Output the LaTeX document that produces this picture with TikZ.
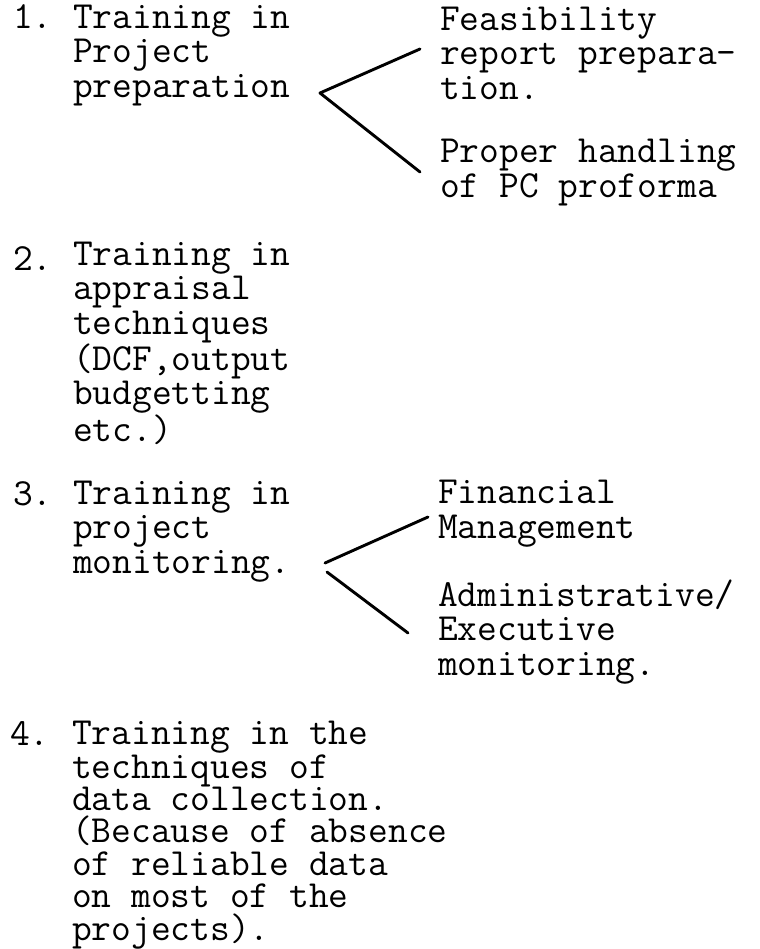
\documentclass[tikz,border=0pt]{standalone}
\usepackage{fontspec}
\usepackage{tikz}

\begin{document}
\begin{tikzpicture}[x=1bp, y=-1bp,
		typed/.style={anchor=base west, inner sep=0pt, align=left, font=\ttfamily\addfontfeatures{FakeBold=0.8}\fontsize{38.5}{34.5}\selectfont},
		stroke/.style={line width=2.9bp, line cap=round, line join=round}]
			%%%%% START %%%%%
			
			\useasboundingbox (0, 0) rectangle (760, 949);
			
			% 1. (multi-line nodes sit on the base of their last line)
			\node[typed] (n1) at (13, 28) {1.};
			\node[typed] (t1) at (73, 97) {Training in\\Project\\preparation};
			\node[typed] (f1) at (440, 99) {Feasibility\\report prepara-\\tion.};
			\node[typed] (f2) at (440, 197) {Proper handling\\of PC proforma};
			
			\coordinate (b1) at (320, 93);
			\coordinate (b1u) at (420, 49);
			\coordinate (b1d) at (420, 172);
			\draw[stroke] (b1u) -- (b1) -- (b1d);
			
			% 2.
			\node[typed] (n2) at (13, 270) {2.};
			\node[typed] (t2) at (73, 441) {Training in\\appraisal\\techniques\\(DCF,output\\budgetting\\etc.)};
			
			% 3.
			\node[typed] (n3) at (13, 505) {3.};
			\node[typed] (t3) at (73, 573) {Training in\\project\\monitoring.};
			\node[typed] (g1) at (438, 538) {Financial\\Management};
			\node[typed] (g2) at (438, 675) {Administrative/\\Executive\\monitoring.};
			
			\coordinate (b3a) at (325, 563);
			\coordinate (b3b) at (327, 572);
			\coordinate (b3u) at (428, 517);
			\coordinate (b3d) at (408, 633);
			\draw[stroke] (b3a) -- (b3u);
			\draw[stroke] (b3b) -- (b3d);
			
			% 4.
			\node[typed] (n4) at (10, 745) {4.};
			\node[typed, font=\ttfamily\addfontfeatures{FakeBold=0.8}\fontsize{38.5}{32.5}\selectfont] (t4) at (72, 940) {Training in the\\techniques of\\data collection.\\(Because of absence\\of reliable data\\on most of the\\projects).};
			
			%%%%% END %%%%%
\end{tikzpicture}
\end{document}
